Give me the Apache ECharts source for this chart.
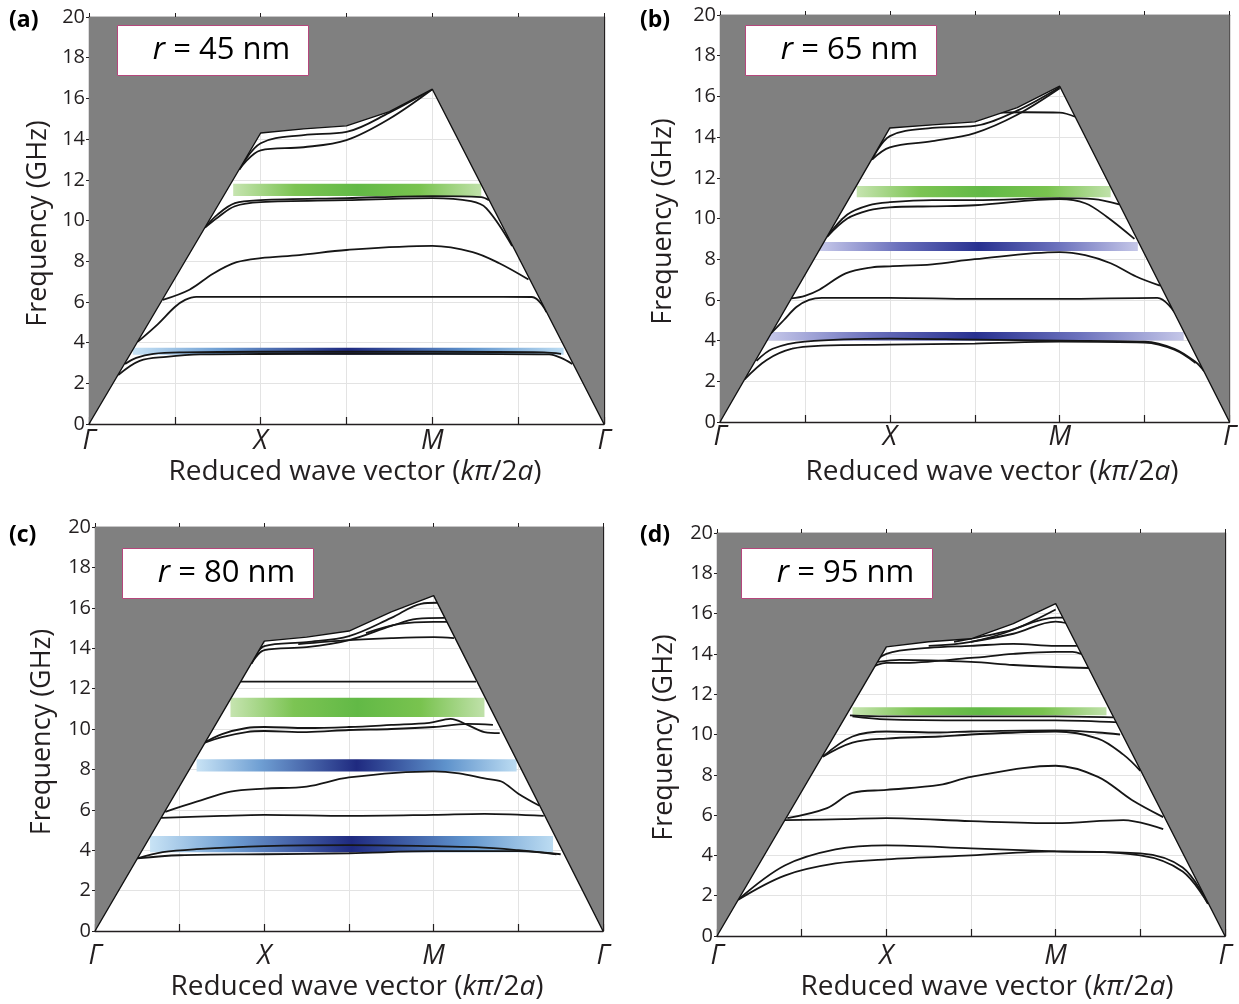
<!DOCTYPE html>
<html>
<head>
<meta charset="utf-8">
<script src="https://cdn.jsdelivr.net/npm/echarts/dist/echarts.min.js"></script>
<style>
  html, body { margin: 0; padding: 0; background: #ffffff; }
  #chart { width: 1239px; height: 1004px; }
</style>
</head>
<body>
<div id="chart"></div>
<script>
// Phonon band structures along Γ–X–M–Γ for four hole radii.
// x runs 0..6 (Γ=0, X=2, M=4, Γ=6); frequencies in GHz.

const xTickNames = { 0: 'Γ', 2: 'X', 4: 'M', 6: 'Γ' };
const panelLetters = ['(a)', '(b)', '(c)', '(d)'];
const radiusLabels = ['45', '65', '80', '95'];

// Upper edge of the continuum (sound line) for each panel
const coneA = [[0, 0], [2, 14.3], [2.5, 14.5], [3, 14.65], [3.5, 15.35], [4, 16.45], [6, 0]];
const coneB = [[0, 0], [2, 14.45], [2.5, 14.6], [3, 14.75], [3.5, 15.45], [4, 16.5], [6, 0]];
const coneC = [[0, 0], [2, 14.35], [2.5, 14.55], [3, 14.85], [3.5, 15.8], [4, 16.6], [6, 0]];
const coneD = [[0, 0], [2, 14.35], [2.5, 14.6], [3, 14.75], [3.5, 15.5], [4, 16.5], [6, 0]];

// Dispersion branches, r = 45 nm
const bandsA = [
  [[1.75, 12.5], [2, 13.8], [2.5, 14.2], [3, 14.35], [3.5, 15.3], [4, 16.45]],
  [[1.75, 12.5], [2, 13.45], [2.5, 13.6], [3, 13.95], [3.5, 15.0], [4, 16.45]],
  [[1.35, 9.65], [1.5, 10.3], [1.7, 10.85], [2, 11.0], [3, 11.1], [4, 11.2], [4.57, 11.15], [4.66, 11.0]],
  [[1.35, 9.65], [1.5, 10.15], [1.7, 10.7], [2, 10.9], [3, 11.0], [4, 11.1], [4.45, 10.95], [4.63, 10.6], [4.93, 8.75]],
  [[0.86, 6.1], [1.17, 6.6], [1.45, 7.4], [1.72, 7.95], [2, 8.15], [2.45, 8.3], [3, 8.55], [4, 8.75], [4.47, 8.45], [4.78, 7.9], [5.12, 7.1]],
  [[0.57, 4.05], [0.8, 4.9], [1.0, 5.75], [1.12, 6.1], [1.25, 6.25], [2, 6.25], [3, 6.25], [4, 6.25], [5.16, 6.24], [5.33, 5.5]],
  [[0.34, 2.4], [0.59, 3.1], [0.9, 3.3], [1.3, 3.42], [2, 3.44], [3, 3.45], [4, 3.45], [5.36, 3.42], [5.5, 3.25], [5.63, 2.95]],
  [[0.42, 2.95], [0.55, 3.25], [0.75, 3.45], [1.1, 3.52], [2, 3.55], [4, 3.55], [5.3, 3.52], [5.5, 3.45]]
];

// Dispersion branches, r = 65 nm
const bandsB = [
  [[1.79, 12.9], [2, 14.05], [2.5, 14.45], [3, 14.55], [3.5, 15.3], [4, 16.45]],
  [[1.79, 12.9], [2, 13.5], [2.5, 13.8], [3, 14.2], [3.5, 15.1], [4, 16.4]],
  [[3.2, 15.2], [3.6, 15.22], [4, 15.2], [4.18, 15.0]],
  [[1.26, 9.1], [1.5, 10.2], [1.75, 10.65], [2, 10.8], [2.5, 10.9], [3, 10.9], [4, 11.0], [4.4, 10.95], [4.7, 10.7]],
  [[1.26, 9.1], [1.5, 10.0], [1.75, 10.4], [2, 10.55], [2.5, 10.6], [3, 10.65], [4, 10.95], [4.3, 10.75], [4.55, 10.1], [4.88, 9.0]],
  [[0.84, 6.07], [1.0, 6.2], [1.17, 6.5], [1.48, 7.3], [1.79, 7.6], [2, 7.65], [2.5, 7.75], [3, 8.0], [4, 8.35], [4.3, 8.2], [4.6, 7.8], [4.9, 7.15], [5.18, 6.7]],
  [[0.6, 4.35], [0.75, 5.0], [0.9, 5.65], [1.05, 6.0], [1.2, 6.1], [2, 6.1], [3, 6.05], [4, 6.05], [5.15, 6.1], [5.35, 5.4]],
  [[0.43, 3.0], [0.62, 3.6], [1.0, 3.95], [2, 4.1], [3, 4.05], [4, 4.0], [5.0, 3.95], [5.35, 3.6], [5.6, 2.95], [5.7, 2.5]],
  [[0.29, 2.1], [0.55, 3.05], [0.85, 3.6], [1.2, 3.75], [2, 3.8], [3, 3.85], [4, 3.95], [5.0, 3.9], [5.35, 3.55], [5.6, 2.9]]
];

// Dispersion branches, r = 80 nm
const bandsC = [
  [[1.85, 13.25], [2, 14.1], [2.5, 14.3], [3, 14.6], [3.5, 15.5], [3.85, 16.2], [4.04, 16.25]],
  [[1.85, 13.25], [2, 13.9], [2.5, 14.05], [3, 14.4], [3.5, 15.1], [3.8, 15.45], [4.13, 15.5]],
  [[3.2, 14.75], [3.6, 15.2], [4, 15.3], [4.16, 15.3]],
  [[2.4, 14.2], [3, 14.4], [3.5, 14.5], [4, 14.55], [4.24, 14.5]],
  [[1.69, 12.35], [3, 12.35], [4, 12.35], [4.5, 12.35]],
  [[1.28, 9.3], [1.5, 9.75], [1.79, 10.05], [2, 10.1], [2.5, 10.05], [3, 10.1], [3.5, 10.2], [3.95, 10.3], [4.2, 10.5], [4.4, 10.2], [4.6, 9.85], [4.78, 9.8]],
  [[1.28, 9.3], [1.5, 9.6], [1.79, 9.85], [2, 9.9], [2.5, 9.85], [3, 9.95], [3.5, 10.0], [4, 10.1], [4.4, 10.25], [4.7, 10.2]],
  [[0.83, 5.9], [1.2, 6.4], [1.6, 6.9], [2, 7.05], [2.5, 7.15], [3, 7.6], [4, 7.9], [4.3, 7.8], [4.6, 7.55], [4.8, 7.4], [5.0, 6.8], [5.25, 6.2]],
  [[0.78, 5.6], [1.5, 5.7], [2, 5.75], [3, 5.7], [4, 5.75], [4.6, 5.8], [5.3, 5.7]],
  [[0.5, 3.6], [0.8, 3.9], [1.2, 4.05], [2, 4.2], [3, 4.25], [4, 4.2], [4.5, 4.15], [5, 4.0], [5.5, 3.8]],
  [[0.5, 3.6], [1, 3.75], [2, 3.8], [3, 3.85], [4, 3.95], [5, 3.95], [5.45, 3.8]]
];

// Dispersion branches, r = 95 nm
const bandsD = [
  [[1.77, 13.2], [2, 13.55], [2.16, 13.55], [3, 13.8], [3.5, 14.0], [4, 14.1], [4.2, 14.1], [4.3, 14.0]],
  [[1.77, 13.2], [2, 14.0], [2.5, 14.3], [3, 14.4], [3.5, 14.5], [4, 14.4], [4.25, 14.4]],
  [[1.9, 13.6], [2.16, 13.7], [3, 13.6], [3.5, 13.45], [4, 13.35], [4.4, 13.3]],
  [[2.5, 14.4], [3, 14.6], [3.5, 15.2], [4, 16.2]],
  [[2.8, 14.6], [3.4, 15.1], [4, 15.8], [4.1, 15.8]],
  [[3.0, 14.6], [3.5, 15.0], [4, 15.6], [4.15, 15.5]],
  [[1.57, 10.95], [2, 10.9], [3, 10.9], [4, 10.9], [4.68, 10.85]],
  [[1.6, 10.9], [2, 10.75], [3, 10.7], [4, 10.7], [4.75, 10.6]],
  [[1.25, 8.9], [1.6, 9.9], [2, 10.15], [2.63, 10.1], [3, 10.15], [4, 10.2], [4.5, 10.1], [4.76, 10.0]],
  [[1.25, 8.9], [1.6, 9.6], [2, 9.8], [2.63, 9.9], [3, 10.0], [4, 10.15], [4.5, 9.8], [4.8, 9.0], [5.0, 8.2]],
  [[0.83, 5.85], [1.3, 6.35], [1.6, 7.1], [2, 7.25], [2.63, 7.5], [3, 7.9], [4, 8.45], [4.5, 7.9], [4.9, 6.75], [5.27, 5.9]],
  [[0.8, 5.75], [1.5, 5.8], [2, 5.85], [3, 5.7], [4, 5.6], [4.8, 5.75], [5.27, 5.3]],
  [[0.25, 1.8], [0.8, 3.5], [1.4, 4.3], [2, 4.5], [3, 4.35], [4, 4.2], [5, 4.1], [5.5, 3.4], [5.8, 1.6]],
  [[0.25, 1.8], [0.8, 3.0], [1.4, 3.6], [2, 3.8], [3, 4.0], [4, 4.2], [5, 4.0], [5.5, 3.2], [5.8, 1.6]]
];

// Band gaps: [x start, x end, lower GHz, upper GHz]
const gapsA = [[1.68, 4.57, 11.2, 11.8], [0.51, 5.53, 3.4, 3.75]];
const gapsB = [[1.61, 4.6, 11.05, 11.6], [1.17, 4.92, 8.4, 8.85], [0.56, 5.46, 4.0, 4.42]];
const gapsC = [[1.6, 4.6, 10.6, 11.55], [1.2, 4.98, 7.9, 8.5], [0.65, 5.41, 3.9, 4.7]];
const gapsD = [[1.6, 4.6, 10.95, 11.35]];
const gapColorsA = ['green', 'sky'];
const gapColorsB = ['green', 'violet', 'violet'];
const gapColorsC = ['green', 'sky', 'sky'];
const gapColorsD = ['green'];

const palettes = {
  green: [[0, '#c6e4b0'], [0.25, '#7cc453'], [0.5, '#62b946'], [0.75, '#79c34f'], [1, '#c0e1aa']],
  sky: [[0, '#c8e3f5'], [0.2, '#6f9fd3'], [0.5, '#1f2a80'], [0.78, '#5f93cc'], [1, '#bcdcf2']],
  violet: [[0, '#c7c9ea'], [0.25, '#6a70bc'], [0.5, '#283190'], [0.75, '#6c72bd'], [1, '#c5c7e8']]
};

const panels = [
  { cone: coneA, bands: bandsA, gaps: gapsA, gapColors: gapColorsA, box: { left: 89, top: 17, width: 515, height: 407 } },
  { cone: coneB, bands: bandsB, gaps: gapsB, gapColors: gapColorsB, box: { left: 720, top: 15, width: 513, height: 407 } },
  { cone: coneC, bands: bandsC, gaps: gapsC, gapColors: gapColorsC, box: { left: 95, top: 527, width: 508, height: 404 } },
  { cone: coneD, bands: bandsD, gaps: gapsD, gapColors: gapColorsD, box: { left: 717, top: 533, width: 508, height: 403 } }
];

// label placement per panel
const tickMargins = [4, 2, 12, 7];
const xTitlePos = [[355, 472], [992, 472], [357, 987], [987, 987]];
const yTitleX = [38, 663, 42, 664];
const letterPos = [[9, 9], [640, 9], [9, 524], [640, 524]];
const boxPos = [[117, 25], [745, 25], [122, 548], [741, 548]];

const FONT = '"Open Sans", "Noto Sans", sans-serif';
const INK = '#231f20';

const grid = [], xAxis = [], yAxis = [], series = [], graphic = [];

panels.forEach((p, i) => {
  grid.push({ left: p.box.left, top: p.box.top, width: p.box.width, height: p.box.height });
  const axisLine = { show: true, lineStyle: { color: INK, width: 1.3 } };
  xAxis.push({
    type: 'value', gridIndex: i, min: 0, max: 6, interval: 1, position: 'bottom',
    axisLine: { ...axisLine, onZero: false },
    axisTick: { show: true, inside: true, length: 7, lineStyle: { color: INK, width: 1.2 } },
    axisLabel: {
      margin: tickMargins[i], fontFamily: FONT, fontStyle: 'italic', fontSize: 27, color: INK,
      formatter: v => xTickNames[v] || ''
    },
    splitLine: { show: true, lineStyle: { color: '#e3e3e3', width: 1 } }
  });
  xAxis.push({
    type: 'value', gridIndex: i, min: 0, max: 6, interval: 1, position: 'top',
    axisLine: { ...axisLine, onZero: false },
    axisTick: { show: true, inside: false, length: 4, lineStyle: { color: INK, width: 1 } },
    axisLabel: { show: false }, splitLine: { show: false }
  });
  yAxis.push({
    type: 'value', gridIndex: i, min: 0, max: 20, interval: 2, position: 'left',
    axisLine: { ...axisLine, onZero: false },
    axisTick: { show: true, inside: false, length: 3, lineStyle: { color: INK, width: 1 } },
    axisLabel: { margin: 4, fontFamily: FONT, fontSize: 20, color: INK },
    splitLine: { show: true, lineStyle: { color: '#e3e3e3', width: 1 } }
  });
  yAxis.push({
    type: 'value', gridIndex: i, min: 0, max: 20, interval: 2, position: 'right',
    axisLine: { ...axisLine, onZero: false },
    axisTick: { show: false }, axisLabel: { show: false }, splitLine: { show: false }
  });

  const xi = 2 * i, yi = 2 * i;

  // band-gap stripes
  series.push({
    type: 'custom', xAxisIndex: xi, yAxisIndex: yi, z: 2, silent: true,
    data: p.gaps,
    encode: { x: [0, 1], y: [2, 3] },
    renderItem: (params, api) => {
      const a = api.coord([api.value(0), api.value(3)]);
      const b = api.coord([api.value(1), api.value(2)]);
      const stops = palettes[p.gapColors[params.dataIndex]].map(s => ({ offset: s[0], color: s[1] }));
      return {
        type: 'rect',
        shape: { x: a[0], y: a[1], width: b[0] - a[0], height: b[1] - a[1] },
        style: { fill: new echarts.graphic.LinearGradient(0, 0, 1, 0, stops) }
      };
    }
  });

  // dispersion branches
  p.bands.forEach(b => {
    series.push({
      type: 'line', xAxisIndex: xi, yAxisIndex: yi, z: 3, silent: true,
      data: b, showSymbol: false, smooth: 0.35,
      lineStyle: { color: '#161616', width: 1.8 }
    });
  });

  // continuum above the sound line
  series.push({
    type: 'line', xAxisIndex: xi, yAxisIndex: yi, z: 4, silent: true,
    data: p.cone, showSymbol: false,
    lineStyle: { color: '#111111', width: 1.4 },
    areaStyle: { color: '#808080', opacity: 1, origin: 'end' }
  });

  const cy = p.box.top, h = p.box.height;

  // panel letter
  graphic.push({
    type: 'text', left: letterPos[i][0], top: letterPos[i][1], z: 100,
    style: { text: panelLetters[i], font: 'bold 23px ' + FONT, fill: '#000' }
  });

  // radius label box
  graphic.push({
    type: 'group', left: boxPos[i][0], top: boxPos[i][1], z: 100,
    children: [
      { type: 'rect', z: 100, shape: { x: 0, y: 0, width: 191, height: 50 }, style: { fill: '#ffffff', stroke: '#b5477c', lineWidth: 1 } },
      {
        type: 'text', z: 101, x: 104, y: 25,
        style: {
          text: '{i|r}{n| = ' + radiusLabels[i] + ' nm}',
          align: 'center', verticalAlign: 'middle',
          rich: {
            i: { fontFamily: FONT, fontStyle: 'italic', fontSize: 31, fill: '#000' },
            n: { fontFamily: FONT, fontSize: 31, fill: '#000' }
          }
        }
      }
    ]
  });

  // y-axis title
  graphic.push({
    type: 'text', x: yTitleX[i], y: cy + h / 2 + 3, rotation: Math.PI / 2, z: 100,
    style: { text: 'Frequency (GHz)', font: '27px ' + FONT, fill: INK, align: 'center', verticalAlign: 'middle' }
  });

  // x-axis title
  graphic.push({
    type: 'text', x: xTitlePos[i][0], y: xTitlePos[i][1], z: 100,
    style: {
      text: '{n|Reduced wave vector (}{i|k\u03C0}{n|/2}{i|a}{n|)}',
      align: 'center', verticalAlign: 'middle',
      rich: {
        n: { fontFamily: FONT, fontSize: 28, fill: INK },
        i: { fontFamily: FONT, fontStyle: 'italic', fontSize: 28, fill: INK }
      }
    }
  });
});

const chart = echarts.init(document.getElementById('chart'), null, { renderer: 'canvas' });
chart.setOption({
  animation: false,
  backgroundColor: '#ffffff',
  grid, xAxis, yAxis, series, graphic
});
</script>
</body>
</html>
